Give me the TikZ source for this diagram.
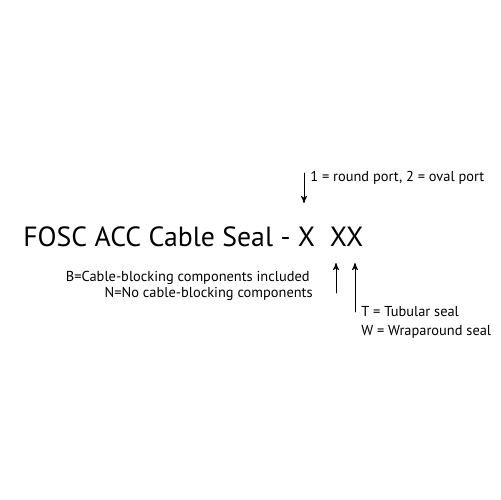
\documentclass[tikz,border=0pt]{standalone}
\usepackage{fontspec}
\setmainfont{PT Sans}
\usetikzlibrary{arrows}

\begin{document}
\begin{tikzpicture}[line cap=round,line join=round,>=stealth',x=0.02cm,y=-0.02cm]
\tikzset{note/.style={inner sep=0pt,font=\fontsize{8.2}{10}\selectfont},
  pointer/.style={->,line width=0.5pt,color=black}}
\useasboundingbox (0,0) rectangle (500,500);
\node[inner sep=0pt,anchor=base west,font=\fontsize{15.8}{18}\selectfont] (title) at (23,246) {FOSC ACC Cable Seal - X\ \ XX};
% notes
\node[note,anchor=base west] (portnote) at (310,181) {1 = round port, 2 = oval port};
\node[note,anchor=base east] (blocknote) at (310,281) {B=Cable-blocking components included};
\node[note,anchor=base east] (noblocknote) at (313,297) {N=No cable-blocking components};
\node[note,anchor=base west] (tubenote) at (361,316) {T = Tubular seal};
\node[note,anchor=base west] (wrapnote) at (361,335) {W = Wraparound seal};
% pointers
\coordinate (portfrom) at (304,173);
\coordinate (portto) at (304,203);
\coordinate (blockfrom) at (336,293);
\coordinate (blockto) at (336,263);
\coordinate (sealfrom) at (355,312);
\coordinate (sealto) at (355,263);
\draw[pointer] (portfrom) -- (portto);
\draw[pointer] (blockfrom) -- (blockto);
\draw[pointer] (sealfrom) -- (sealto);
\end{tikzpicture}
\end{document}
